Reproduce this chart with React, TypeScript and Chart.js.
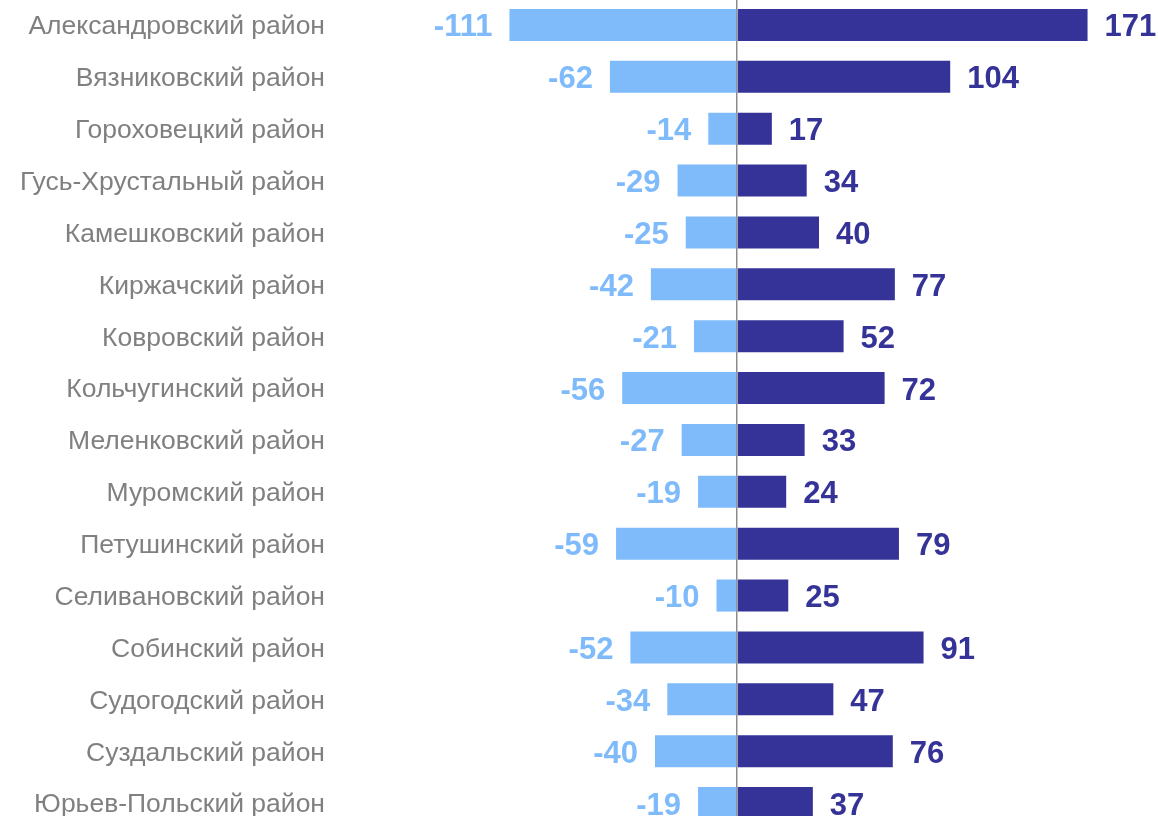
import React, { useEffect, useRef } from "react";
import { Chart, registerables } from "chart.js";

Chart.register(...registerables);

const categories = [
  "Александровский район",
  "Вязниковский район",
  "Гороховецкий район",
  "Гусь-Хрустальный район",
  "Камешковский район",
  "Киржачский район",
  "Ковровский район",
  "Кольчугинский район",
  "Меленковский район",
  "Муромский район",
  "Петушинский район",
  "Селивановский район",
  "Собинский район",
  "Судогодский район",
  "Суздальский район",
  "Юрьев-Польский район",
];

const negativeValues = [-111, -62, -14, -29, -25, -42, -21, -56, -27, -19, -59, -10, -52, -34, -40, -19];
const positiveValues = [171, 104, 17, 34, 40, 77, 52, 72, 33, 24, 79, 25, 91, 47, 76, 37];

const LIGHT = "#7fbbfb";
const DARK = "#353397";
const FONT = "'Liberation Sans', Arial, sans-serif";

const valueLabels = {
  id: "valueLabels",
  afterDatasetsDraw(chart: any) {
    const ctx = chart.ctx;
    ctx.save();
    ctx.font = `bold 31px ${FONT}`;
    ctx.textBaseline = "middle";
    chart.data.datasets.forEach((ds: any, di: number) => {
      const meta = chart.getDatasetMeta(di);
      meta.data.forEach((el: any, i: number) => {
        const v = ds.data[i];
        ctx.fillStyle = ds.backgroundColor;
        if (v < 0) {
          ctx.textAlign = "right";
          ctx.fillText(String(v), el.x - 17, el.y + 3);
        } else {
          ctx.textAlign = "left";
          ctx.fillText(String(v), el.x + 17, el.y + 3);
        }
      });
    });
    ctx.restore();
  },
};

export default function App() {
  const ref = useRef<HTMLCanvasElement | null>(null);
  useEffect(() => {
    if (!ref.current) return;
    const chart = new Chart(ref.current, {
      type: "bar",
      data: {
        labels: categories,
        datasets: [
          { data: negativeValues, backgroundColor: LIGHT, borderWidth: 0, barPercentage: 0.618, categoryPercentage: 1 },
          { data: positiveValues, backgroundColor: DARK, borderWidth: 0, barPercentage: 0.618, categoryPercentage: 1 },
        ],
      },
      options: {
        indexAxis: "y",
        responsive: false,
        animation: false,
        devicePixelRatio: 1,
        layout: { padding: { left: 0, right: 11, top: 0, bottom: 0 } },
        plugins: { legend: { display: false }, tooltip: { enabled: false } },
        scales: {
          x: {
            stacked: true,
            min: -160,
            max: 200,
            ticks: { display: false, stepSize: 20 },
            border: { display: false },
            grid: {
              drawTicks: false,
              color: (c: any) => (c.tick && c.tick.value === 0 ? "#8c8c8c" : "rgba(0,0,0,0)"),
              lineWidth: 1.5,
            },
          },
          y: {
            stacked: true,
            border: { display: false },
            grid: { display: false, drawTicks: false },
            ticks: {
              color: "#808080",
              font: { family: FONT, size: 26.5 },
              padding: 84,
              labelOffset: 2,
            },
            afterFit: (scale: any) => {
              scale.width = 409;
              scale.paddingTop = 0;
              scale.paddingBottom = 0;
            },
          },
        },
      },
      plugins: [valueLabels],
    });
    return () => chart.destroy();
  }, []);
  return (
    <div style={{ position: "fixed", left: 0, top: 0, width: 1158, height: 816, overflow: "hidden", background: "#fff" }}>
      <canvas ref={ref} width={1158} height={830} style={{ position: "absolute", left: 0, top: -1, width: 1158, height: 830 }} />
    </div>
  );
}
